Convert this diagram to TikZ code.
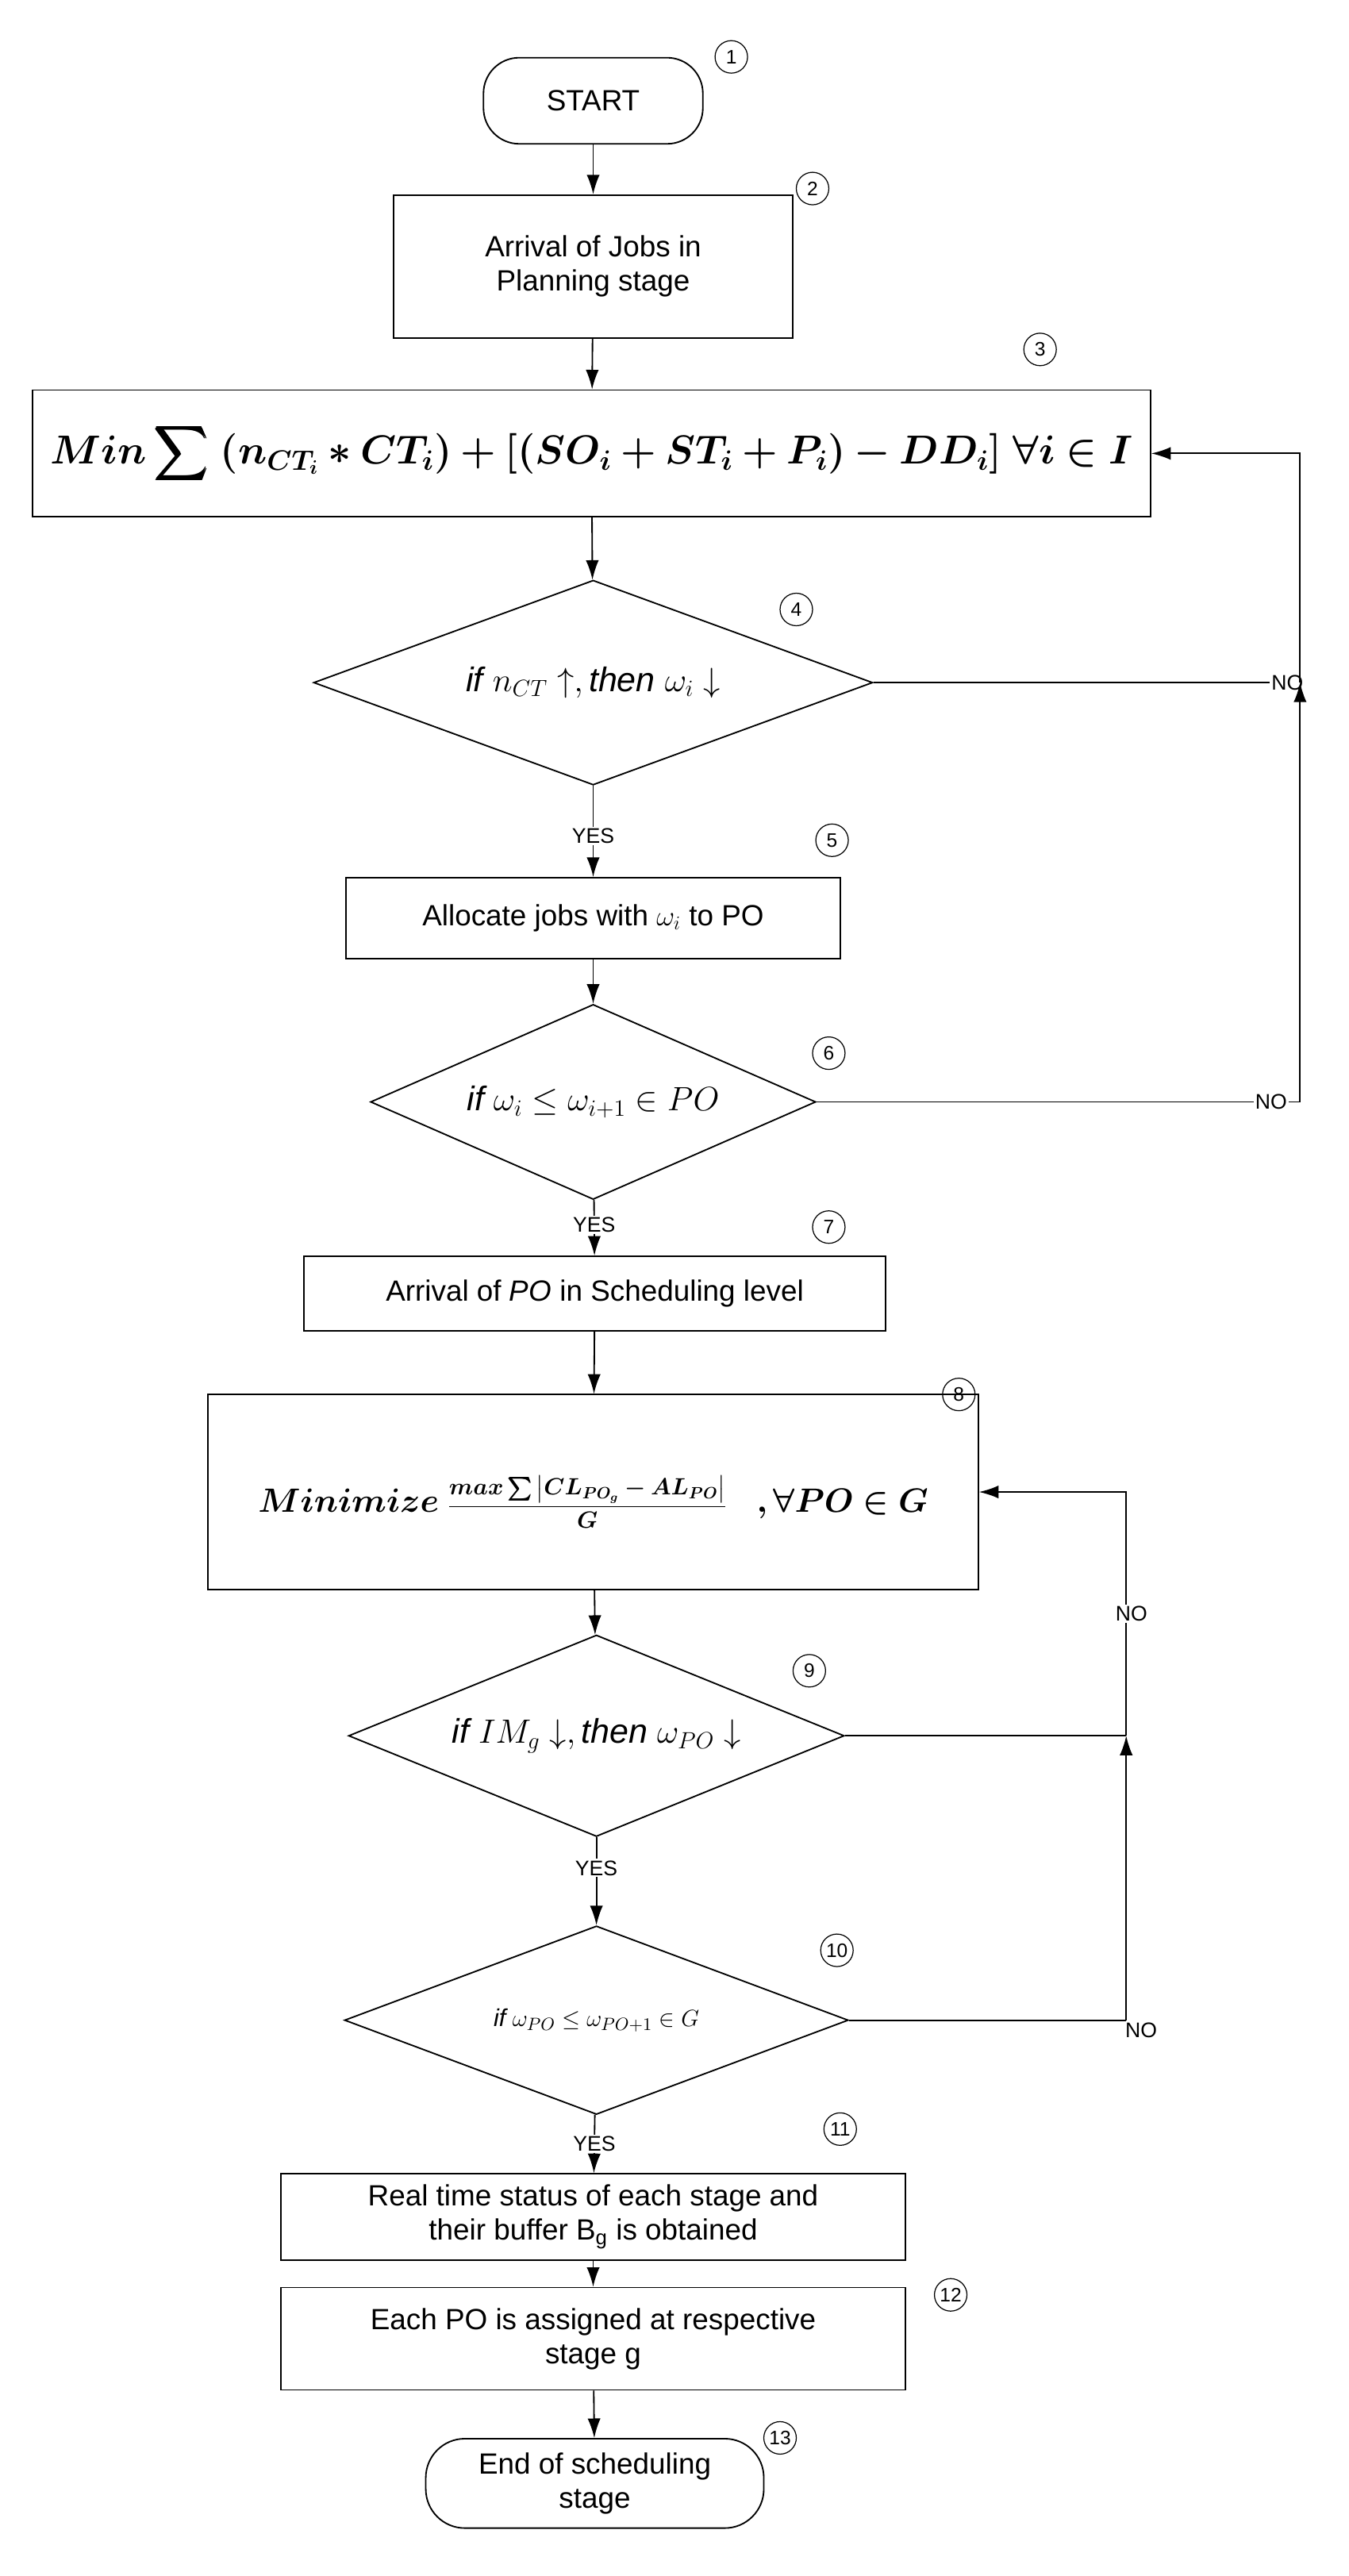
\documentclass[tikz,border=0pt]{standalone}
\usepackage{amsmath,amssymb,bm}
\usepackage{fontspec}
\setmainfont{Liberation Sans}
\usetikzlibrary{shapes.geometric,arrows.meta}
\begin{document}
\begin{tikzpicture}[x=1pt,y=-1pt,
  every node/.style={font=\fontsize{18}{21}\selectfont},
  box/.style={draw,line width=0.9pt,minimum width=#1,align=center,inner sep=0pt},
  term/.style={draw,line width=0.9pt,rounded corners=22pt,align=center},
  dia/.style={draw,line width=0.9pt,diamond,aspect=#1,inner sep=0pt},
  num/.style={draw,circle,line width=0.6pt,inner sep=0pt,minimum size=20pt,font=\fontsize{12}{12}\selectfont},
  lbl/.style={font=\fontsize{13}{13}\selectfont,fill=white,inner sep=1pt},
  big/.style={font=\fontsize{23}{26}\selectfont},
  dtxt/.style={font=\fontsize{21}{24}\selectfont},
  arr/.style={-{Latex[length=12pt,width=8pt]},line width=0.9pt},
  ln/.style={line width=0.9pt}]
\useasboundingbox (0,0) rectangle (830,1585);
\node[term,minimum width=135pt,minimum height=53pt] (s1) at (365,62) {START};
\node[num] (c1) at (450,35) {1};
\node[box=246pt,minimum height=88pt] (s2) at (365,164) {Arrival of Jobs in\\Planning stage};
\node[num] (c2) at (500,116) {2};
\node[box=688pt,minimum height=78pt] (s3) at (364,279) {};
\node[big] at (s3) {$\displaystyle\bm{Min\sum\;(n_{CT_i}*CT_i)+[(SO_i+ST_i+P_i)-DD_i]\;\forall i\in I}$};
\node[num] (c3) at (640,215) {3};
\node[dia=2.73,minimum width=344pt,minimum height=126pt] (s4) at (365,420) {};
\node[dtxt] at (s4) {$\mathit{if}\ n_{CT}\uparrow,\mathit{then}\ \omega_i\downarrow$};
\node[num] (c4) at (490,375) {4};
\node[box=304pt,minimum height=50pt] (s5) at (365,565) {Allocate jobs with $\omega_i$ to PO};
\node[num] (c5) at (512,517) {5};
\node[dia=2.28,minimum width=274pt,minimum height=120pt] (s6) at (365,678) {};
\node[dtxt] at (s6) {$\mathit{if}\ \omega_i\le\omega_{i+1}\in PO$};
\node[num] (c6) at (510,648) {6};
\node[box=358pt,minimum height=46pt] (s7) at (366,796) {Arrival of \textit{PO} in Scheduling level};
\node[num] (c7) at (510,755) {7};
\node[box=474pt,minimum height=120pt] (s8) at (365,918) {};
\node at ([yshift=-6pt]s8.center) {{\fontsize{22}{24}\selectfont$\bm{Minimize}$}\ {\fontsize{14}{16}\selectfont$\dfrac{\bm{max\sum\big|CL_{PO_g}-AL_{PO}\big|}}{\bm{G}}$}\quad{\fontsize{22}{24}\selectfont$\bm{,\forall PO\in G}$}};
\node[num] (c8) at (590,858) {8};
\node[dia=2.45,minimum width=305pt,minimum height=124pt] (s9) at (367,1068) {};
\node[dtxt] at (s9) {$\mathit{if}\ IM_g\downarrow,\mathit{then}\ \omega_{PO}\downarrow$};
\node[num] (c9) at (498,1028) {9};
\node[dia=2.67,minimum width=310pt,minimum height=116pt] (s10) at (367,1243) {};
\node at (s10) {\fontsize{15}{15}\selectfont$\mathit{if}\ \omega_{PO}\le\omega_{PO+1}\in G$};
\node[num] (c10) at (515,1200) {10};
\node[box=384pt,minimum height=53pt] (s11) at (365,1364) {Real time status of each stage and\\their buffer B$_\text{g}$ is obtained};
\node[num] (c11) at (517,1310) {11};
\node[box=384pt,minimum height=63pt] (s12) at (365,1439) {Each PO is assigned at respective\\stage g};
\node[num] (c12) at (585,1412) {12};
\node[term,minimum width=208pt,minimum height=55pt,rounded corners=24pt] (s13) at (366,1528) {End of scheduling\\stage};
\node[num] (c13) at (480,1500) {13};
\coordinate (r1) at (800,420);
\coordinate (r2) at (800,678);
\coordinate (q1) at (693,1068);
\coordinate (q2) at (693,1243);
\draw[arr] (s1) -- (s2);
\draw[arr] (s2) -- (s3);
\draw[arr] (s3) -- (s4);
\draw[arr] (s4) -- node[lbl,pos=0.55]{YES} (s5);
\draw[arr] (s5) -- (s6);
\draw[arr] (s6) -- node[lbl,pos=0.45]{YES} (s7);
\draw[arr] (s7) -- (s8);
\draw[arr] (s8) -- (s9);
\draw[arr] (s9) -- node[lbl,pos=0.35]{YES} (s10);
\draw[arr] (s10) -- node[lbl,pos=0.5]{YES} (s11);
\draw[arr] (s11) -- (s12);
\draw[arr] (s12) -- (s13);
\draw[ln] (s4.east) -- (r1) node[lbl,pos=0.97]{NO};
\draw[arr] (r1) |- (s3.east);
\draw[ln] (s6.east) -- (r2) node[lbl,pos=0.94]{NO};
\draw[arr] (r2) -- (r1);
\draw[ln] (s9.east) -- (q1);
\draw[arr] (q1) |- node[lbl,pos=0.25,right,xshift=-8pt]{NO} (s8.east);
\draw[ln] (s10.east) -- node[lbl,pos=1,right,xshift=-2pt,yshift=-6pt,fill=none]{NO} (q2);
\draw[arr] (q2) -- (q1);
\end{tikzpicture}
\end{document}
